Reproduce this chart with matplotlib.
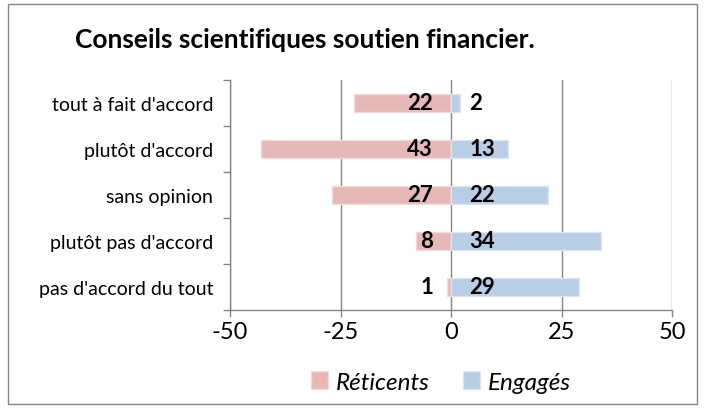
import matplotlib
matplotlib.use("Agg")
import matplotlib.pyplot as plt
from matplotlib.patches import Rectangle, Patch
import numpy as np

plt.rcParams['font.family'] = ['Lato', 'DejaVu Sans']

categories = ["tout à fait d'accord", "plutôt d'accord", "sans opinion",
              "plutôt pas d'accord", "pas d'accord du tout"]
reticents = [22, 43, 27, 8, 1]
engages = [2, 13, 22, 34, 29]
x_ticks = [-50, -25, 0, 25, 50]
title = "Conseils scientifiques soutien financier."
series_names = ["Réticents", "Engagés"]

pink = "#E6B9B8"
pink_edge = "#F2DCDB"
blue = "#B9CDE5"
blue_edge = "#DCE6F2"
gray = "#868686"

W, H = 705, 410
fig = plt.figure(figsize=(W / 100, H / 100), dpi=100)
fig.patch.set_facecolor("white")

# outer chart frame
fig.patches.append(Rectangle((8 / W, 5 / H), (697 - 8) / W, (405 - 5) / H,
                             transform=fig.transFigure, fill=False,
                             edgecolor=gray, lw=1.0))

ax = fig.add_axes([230 / W, 1 - 311 / H, (672 - 230) / W, (311 - 81) / H])

y = np.arange(len(categories))
neg = [-v for v in reticents]
ax.barh(y, neg, height=0.4, color=pink, edgecolor=pink_edge, lw=1.0, zorder=3)
ax.barh(y, engages, height=0.4, color=blue, edgecolor=blue_edge, lw=1.0, zorder=3)

for yi, r, e in zip(y, reticents, engages):
    ax.annotate(str(r), (0, yi), xytext=(-13, 0), textcoords="offset points",
                ha="right", va="center", fontsize=16, fontweight="bold", zorder=4)
    ax.annotate(str(e), (0, yi), xytext=(13, 0), textcoords="offset points",
                ha="left", va="center", fontsize=16, fontweight="bold", zorder=4)

ax.set_xlim(-50, 50)
ax.set_ylim(len(categories) - 0.5, -0.5)
ax.set_xticks(x_ticks)
ax.set_xticklabels([str(t) for t in x_ticks], fontsize=17)
ax.tick_params(axis="x", length=5, color=gray, width=1.0, pad=3)

ax.set_yticks(np.arange(-0.5, len(categories), 1.0))
ax.set_yticklabels([])
ax.tick_params(axis="y", which="major", length=5, color=gray, width=1.0)
ax.set_yticks(y, minor=True)
ax.set_yticklabels(categories, minor=True, fontsize=14)
ax.tick_params(axis="y", which="minor", length=0, pad=12)

ax.grid(axis="x", color=gray, lw=1.0, zorder=0)
ax.set_axisbelow(True)
for s in ["top", "right"]:
    ax.spines[s].set_visible(False)
for s in ["left", "bottom"]:
    ax.spines[s].set_color(gray)
    ax.spines[s].set_linewidth(1.0)

fig.text(75 / W, 1 - 40 / H, title, fontsize=19, fontweight="bold",
         ha="left", va="center")

handles = [Patch(facecolor=pink, edgecolor=pink_edge),
           Patch(facecolor=blue, edgecolor=blue_edge)]
leg = fig.legend(handles, series_names, loc="center", bbox_to_anchor=(441 / W, 1 - 383 / H),
                 ncol=2, frameon=False, handlelength=0.7, handleheight=0.7,
                 handletextpad=0.3, columnspacing=1.4,
                 prop={"size": 17.5, "style": "italic"})

fig.savefig("out.png", dpi=100)
